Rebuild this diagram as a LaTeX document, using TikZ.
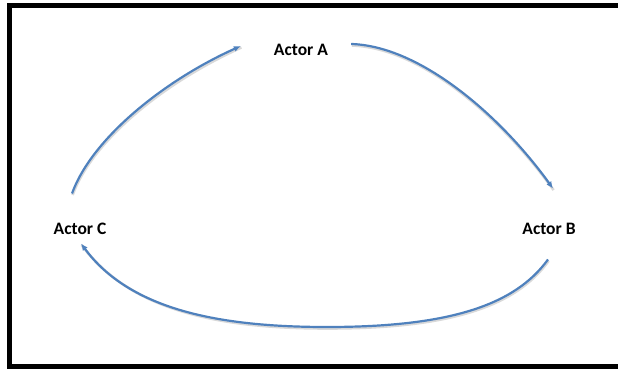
\documentclass[tikz,border=0pt]{standalone}
\usepackage{fontspec}
\setmainfont{Carlito}
\usetikzlibrary{arrows.meta,calc}
\definecolor{flowblue}{RGB}{79,129,189}
\begin{document}
\begin{tikzpicture}[
		x=1pt, y=-1pt,
		actor/.style={
			inner sep=2pt,
			font=\bfseries\fontsize{17.5}{20}\selectfont
		},
		flow/.style={
			draw=flowblue,
			line width=2.2pt,
			-{Latex[length=7pt,width=6pt]},
			preaction={draw=black!15, line width=2.6pt, -,
				transform canvas={shift={(0.6pt,-1.5pt)}}}
		}
		]
		
		\useasboundingbox (0,0) rectangle (618,369);
		
		% Frame (open on the right, runs off the page)
		\draw[line width=5pt] (618,5.5) -- (9.5,5.5) -- (9.5,366.5) -- (618,366.5);
		
		% Actors
		\node[actor] (actA) at (301,50) {Actor A};
		\node[actor] (actB) at (549,229) {Actor B};
		\node[actor] (actC) at (80,229) {Actor C};
		
		% Cycle
		\draw[flow] ($(actC.north)+(-8,-27.5)$) .. controls (92,138) and (165,80) .. ($(actA.west)+(-31,-4)$);
		\draw[flow] ($(actA.east)+(21,-6)$) .. controls (420,46) and (500,115) .. ($(actB.north)+(4,-32.5)$);
		\draw[flow] ($(actB.south)+(-1,22.5)$) .. controls (515,305) and (450,327) .. (327,327)
			.. controls (220,327) and (130,310) .. ($(actC.south)+(1,6.5)$);
		
	\end{tikzpicture}
\end{document}
